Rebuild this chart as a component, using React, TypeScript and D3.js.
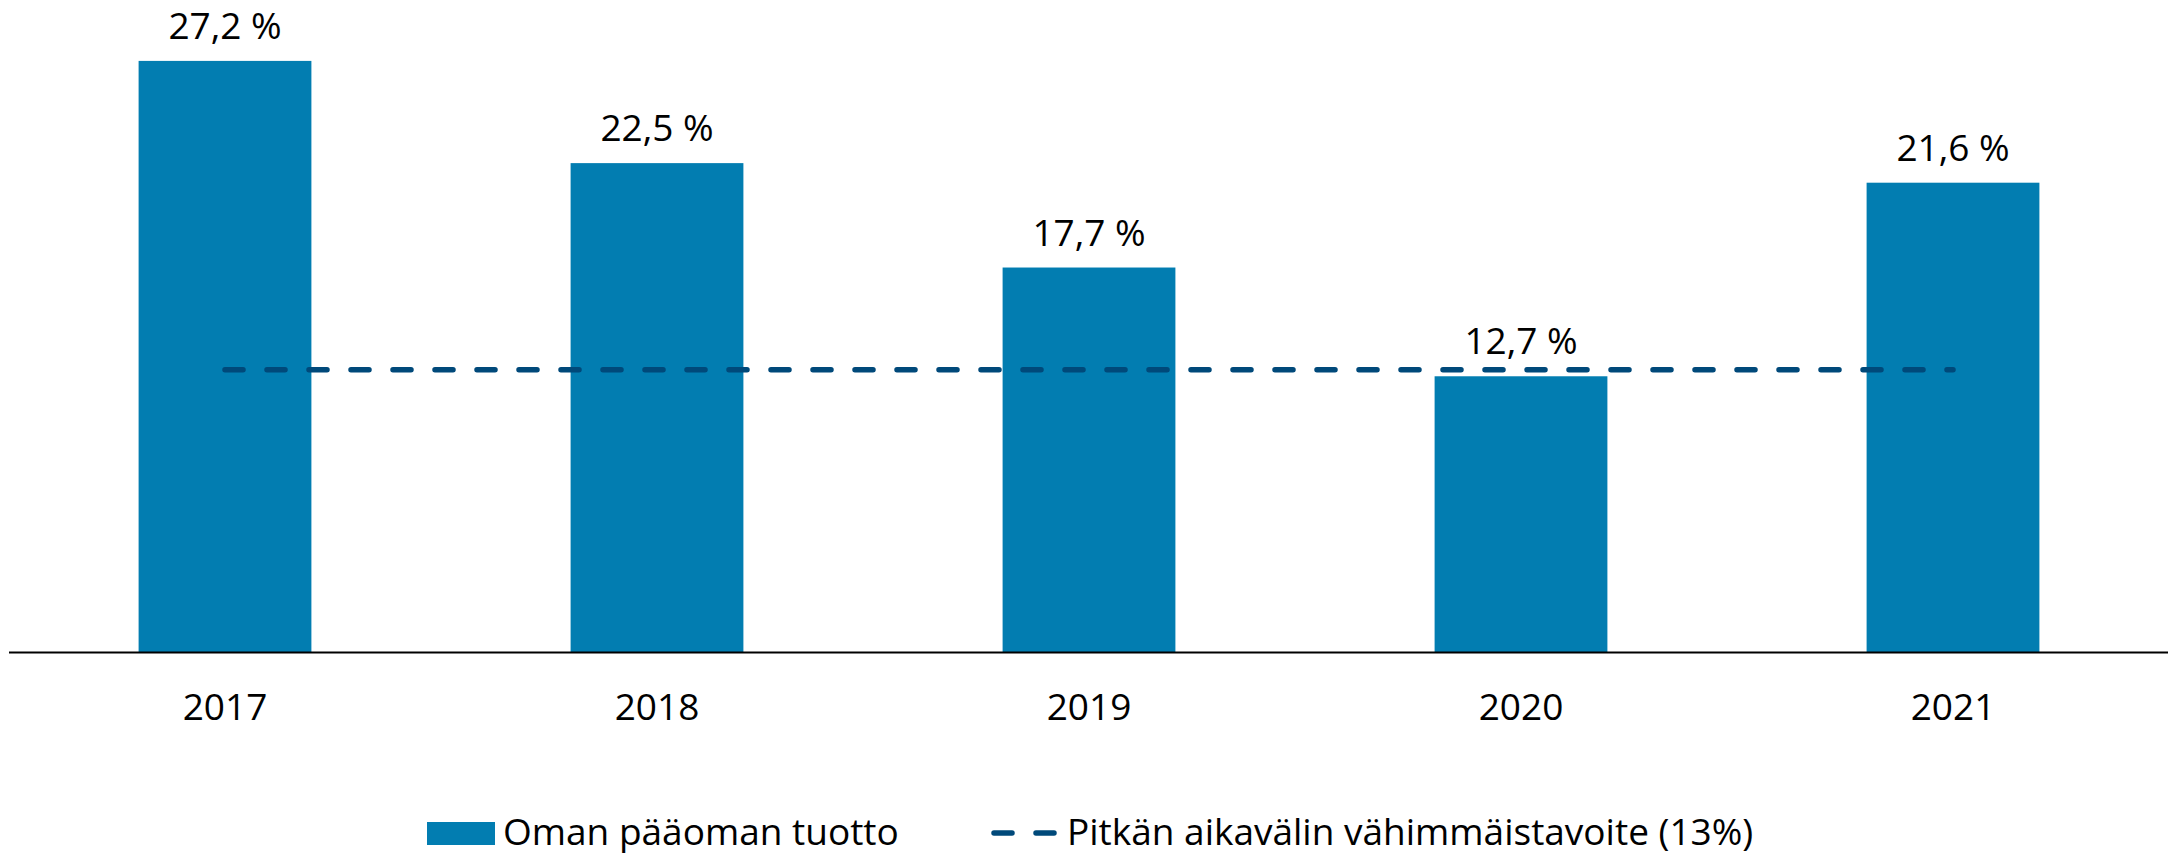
import React from "react";
import * as d3 from "d3";

const years = ["2017", "2018", "2019", "2020", "2021"];
const roe = [27.2, 22.5, 17.7, 12.7, 21.6];
const target = 13;
const legendLabels = ["Oman pääoman tuotto", "Pitkän aikavälin vähimmäistavoite (13%)"];

const W = 2175;
const H = 853;
const BAR = "#027db1";
const LINE = "#00497a";
const FONT = "'Open Sans', 'Noto Sans', sans-serif";

export default function App() {
  const x = d3.scaleBand<string>().domain(years).range([9, 2169]).paddingInner(0.6).paddingOuter(0.3);
  const y = d3.scaleLinear().domain([0, 30]).range([652.5, 0]);
  const fmt = (v: number) => d3.format(".1f")(v).replace(".", ",") + " %";
  const bw = x.bandwidth();
  const lineGen = d3.line<string>().x((d) => (x(d) as number) + bw / 2).y(() => y(target));
  const lineYears = [years[0], years[years.length - 1]];

  return (
    <svg width={W} height={H} style={{ position: "absolute", left: 0, top: 0, fontFamily: FONT }}>
      <rect width={W} height={H} fill="#fff" />
      {years.map((yr, i) => (
        <rect key={yr} x={x(yr)} y={y(roe[i])} width={bw} height={y(0) - y(roe[i])} fill={BAR} />
      ))}
      <line x1={9} x2={2168} y1={y(0)} y2={y(0)} stroke="#000" strokeWidth={2} />
      <path
        d={lineGen(lineYears) || ""}
        fill="none"
        stroke={LINE}
        strokeWidth={5.5}
        strokeLinecap="round"
        strokeDasharray="18 24"
      />
      {years.map((yr, i) => (
        <text
          key={"v" + yr}
          x={(x(yr) as number) + bw / 2}
          y={y(roe[i]) - 22}
          textAnchor="middle"
          fontSize={37}
          fill="#000"
        >
          {fmt(roe[i])}
        </text>
      ))}
      {years.map((yr) => (
        <text key={"t" + yr} x={(x(yr) as number) + bw / 2} y={720} textAnchor="middle" fontSize={37} fill="#000">
          {yr}
        </text>
      ))}
      <g>
        <rect x={427} y={822} width={68} height={23} fill={BAR} />
        <text x={503} y={845} fontSize={37} fill="#000">
          {legendLabels[0]}
        </text>
        <line x1={994} x2={1057} y1={833} y2={833} stroke={LINE} strokeWidth={5.5} strokeLinecap="round" strokeDasharray="18 24" />
        <text x={1067} y={845} fontSize={37} fill="#000">
          {legendLabels[1]}
        </text>
      </g>
    </svg>
  );
}
